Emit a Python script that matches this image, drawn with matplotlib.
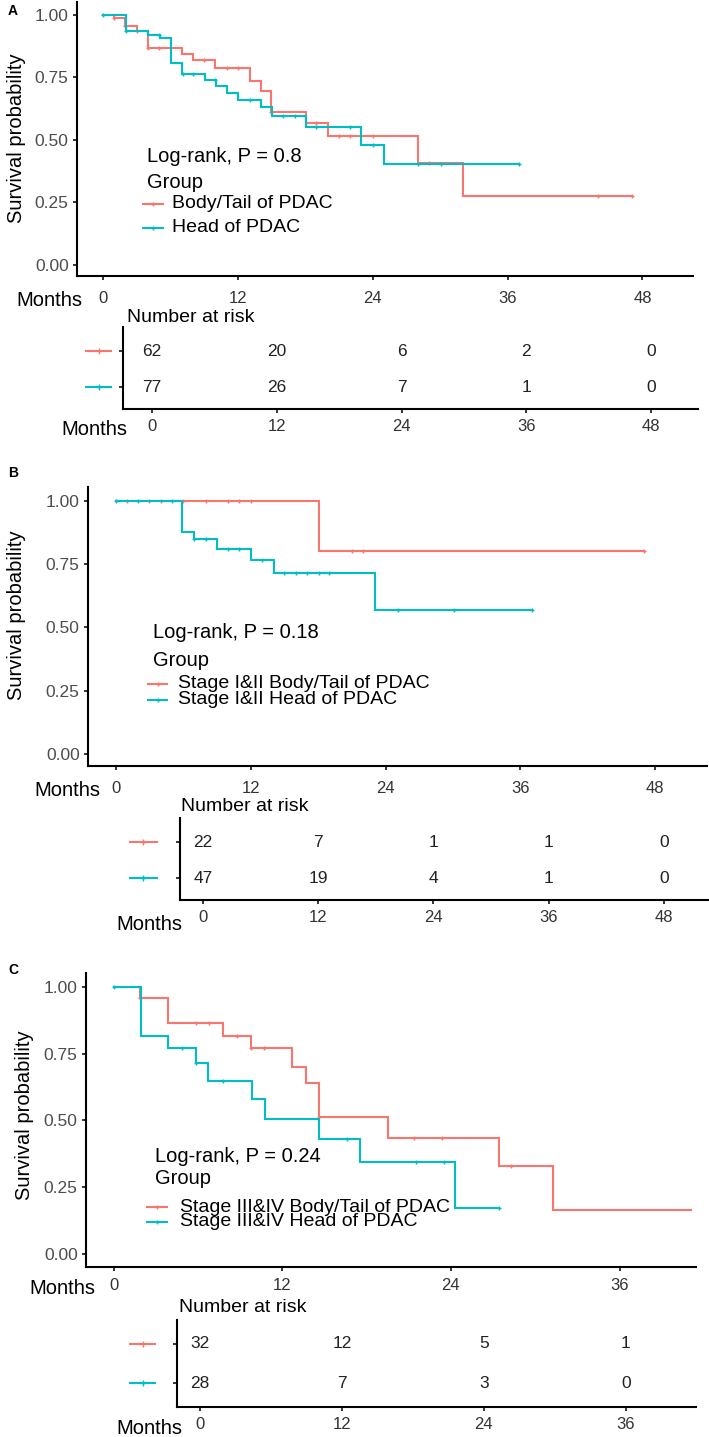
import numpy as np
import matplotlib
matplotlib.use("Agg")
import matplotlib.pyplot as plt
import matplotlib.transforms as mtransforms

plt.rcParams['font.family'] = ['Liberation Sans', 'DejaVu Sans']

# ---------------- data ----------------
RED = '#F8766D'
TEAL = '#00BFC4'

# Panel A
a_red_t = [0, 1.0, 2.0, 3.0, 4.0, 7.0, 8.0, 10.0, 13.1, 14.1, 15.0, 18.05, 20.0, 28.0, 32.05, 47.06]
a_red_s = [1.0, 0.987, 0.957, 0.934, 0.869, 0.843, 0.82, 0.786, 0.736, 0.696, 0.61, 0.567, 0.516, 0.407, 0.277, 0.277]
a_red_c = [1.0, 2.0, 3.0, 4.0, 5.0, 9.0, 11.0, 12.0, 15.0, 19.0, 21.0, 22.0, 24.07, 29.0, 44.05, 47.06]
a_teal_t = [0, 2.05, 4.0, 5.08, 6.06, 7.07, 9.08, 10.03, 11.0, 12.0, 14.07, 15.02, 18.05, 23.0, 25.0, 37.05]
a_teal_s = [1.0, 0.936, 0.92, 0.907, 0.807, 0.763, 0.74, 0.716, 0.689, 0.66, 0.633, 0.596, 0.553, 0.48, 0.403, 0.403]
a_teal_c = [0, 2.05, 5.0, 7.1, 8.0, 10.0, 13.1, 16.06, 17.1, 19.0, 22.0, 24.07, 28.0, 30.1, 37.05]
a_groups = ['Body/Tail of PDAC', 'Head of PDAC']
a_pval = 'Log-rank, P = 0.8'
a_times = [0, 12, 24, 36, 48]
a_risk_red = [62, 20, 6, 2, 0]
a_risk_teal = [77, 26, 7, 1, 0]

# Panel B
b_red_t = [0, 18.1, 47.0]
b_red_s = [1.0, 0.80, 0.80]
b_red_c = [1.0, 3.0, 4.0, 6.0, 8.0, 10.0, 11.0, 12.0, 21.0, 22.0, 47.0]
b_teal_t = [0, 5.93, 7.0, 9.05, 12.05, 14.04, 23.1, 37.05]
b_teal_s = [1.0, 0.875, 0.847, 0.809, 0.766, 0.713, 0.568, 0.568]
b_teal_c = [0, 2.0, 5.0, 7.0, 8.0, 10.0, 11.0, 13.0, 15.0, 16.0, 17.0, 18.1, 19.0, 25.1, 30.1, 37.05]
b_groups = ['Stage I&II Body/Tail of PDAC', 'Stage I&II Head of PDAC']
b_pval = 'Log-rank, P = 0.18'
b_times = [0, 12, 24, 36, 48]
b_risk_red = [22, 7, 1, 1, 0]
b_risk_teal = [47, 19, 4, 1, 0]

# Panel C
c_red_t = [0, 1.9, 3.9, 7.76, 9.77, 12.71, 13.68, 14.63, 19.53, 27.4, 31.25, 41.1]
c_red_s = [1.0, 0.959, 0.867, 0.817, 0.771, 0.702, 0.639, 0.512, 0.435, 0.329, 0.163, 0.163]
c_red_c = [1.9, 5.84, 6.79, 8.75, 9.77, 10.7, 14.63, 21.4, 23.4, 28.25]
c_teal_t = [0, 1.93, 3.9, 5.84, 6.74, 9.82, 10.77, 14.63, 17.56, 24.3, 27.4]
c_teal_s = [1.0, 0.818, 0.771, 0.714, 0.648, 0.58, 0.504, 0.432, 0.344, 0.171, 0.171]
c_teal_c = [0, 4.9, 5.84, 7.8, 16.6, 21.5, 23.5, 27.4]
c_groups = ['Stage III&IV Body/Tail of PDAC', 'Stage III&IV Head of PDAC']
c_pval = 'Log-rank, P = 0.24'
c_times = [0, 12, 24, 36]
c_risk_red = [32, 12, 5, 1]
c_risk_teal = [28, 7, 3, 0]

yticks_main = [0.0, 0.25, 0.5, 0.75, 1.0]

# ---------------- layout ----------------
W, H = 709, 1437
fig = plt.figure(figsize=(W / 100, H / 100), dpi=100)


def rect(l, t, r, b):
    return [l / W, 1 - b / H, (r - l) / W, (b - t) / H]


def fx(x):
    return x / W


def fy(y):
    return 1 - y / H


def surv_at(t_arr, s_arr, tc):
    idx = np.searchsorted(np.asarray(t_arr), np.asarray(tc), side='right') - 1
    return np.asarray(s_arr)[idx]


def style_axes(ax):
    for side in ['top', 'right']:
        ax.spines[side].set_visible(False)
    for side in ['left', 'bottom']:
        ax.spines[side].set_linewidth(1.5)
        ax.spines[side].set_color('black')
    ax.tick_params(axis='both', length=3, width=1.1, color='black')


def main_panel(r, xlim, ylim, curves, pval, groups, txt, leg_rows, ticks, label, label_xy,
               ylabel_xy, months_xy, xtick_pad):
    ax = fig.add_axes(rect(*r))
    style_axes(ax)
    for t, s, c, col in curves:
        ax.step(t, s, where='post', color=col, lw=1.5, solid_joinstyle='miter')
        ax.plot(c, surv_at(t, s, c), ls='none', marker='+', ms=3.5, mew=1.0, color=col)
    ax.set_xlim(*xlim)
    ax.set_ylim(*ylim)
    ax.set_yticks(yticks_main)
    ax.set_yticklabels(['%.2f' % v for v in yticks_main])
    ax.set_xticks(ticks)
    ax.set_xticklabels([str(v) for v in ticks])
    ax.tick_params(axis='y', labelsize=12.5, labelcolor='#4D4D4D', pad=3)
    ax.tick_params(axis='x', labelsize=12, labelcolor='#333333', pad=xtick_pad)
    # texts
    tx, ty_p, ty_g = txt
    fig.text(fx(tx), fy(ty_p), pval, fontsize=14.5, ha='left', va='center')
    fig.text(fx(tx), fy(ty_g), 'Group', fontsize=14.5, ha='left', va='center')
    gx0, gx1, tx2 = leg_rows[0]
    for (yy, name, col) in zip(leg_rows[1], groups, [RED, TEAL]):
        fig.add_artist(plt.Line2D([fx(gx0), fx(gx1)], [fy(yy), fy(yy)], color=col, lw=1.5,
                                  transform=fig.transFigure))
        fig.add_artist(plt.Line2D([fx((gx0 + gx1) / 2)], [fy(yy)], color=col, marker='+', ms=3.5,
                                  mew=1, transform=fig.transFigure))
        fig.text(fx(tx2), fy(yy), name, fontsize=14, ha='left', va='center')
    fig.text(fx(label_xy[0]), fy(label_xy[1]), label, fontsize=10, fontweight='bold',
             ha='left', va='center')
    fig.text(fx(ylabel_xy[0]), fy(ylabel_xy[1]), 'Survival probability', fontsize=14.5,
             rotation=90, ha='center', va='center')
    fig.text(fx(months_xy[0]), fy(months_xy[1]), 'Months', fontsize=14.5, ha='right',
             va='center')
    return ax


def risk_panel(r, xlim, ylim, times, rr, rt, glyph, nar_xy, months_xy):
    ax = fig.add_axes(rect(*r))
    style_axes(ax)
    ax.set_xlim(*xlim)
    ax.set_ylim(*ylim)
    ax.set_xticks(times)
    ax.set_xticklabels([str(v) for v in times])
    ax.set_yticks([0, 1])
    ax.set_yticklabels(['', ''])
    ax.tick_params(axis='x', labelsize=12, labelcolor='#333333', pad=4)
    for yv, vals in [(1, rr), (0, rt)]:
        for tv, n in zip(times, vals):
            ax.text(tv, yv, str(n), fontsize=12.5, ha='center', va='center', color='#222222')
    trans = mtransforms.blended_transform_factory(ax.transAxes, ax.transData)
    for yv, col in [(1, RED), (0, TEAL)]:
        ax.plot([glyph[0], glyph[1]], [yv, yv], color=col, lw=1.5, transform=trans, clip_on=False)
        ax.plot([(glyph[0] + glyph[1]) / 2], [yv], color=col, marker='+', ms=4, mew=1.0,
                transform=trans, clip_on=False)
    fig.text(fx(nar_xy[0]), fy(nar_xy[1]), 'Number at risk', fontsize=14, ha='left', va='center')
    fig.text(fx(months_xy[0]), fy(months_xy[1]), 'Months', fontsize=14.5, ha='right',
             va='center')
    return ax


# Panel A
main_panel((77, 2, 693, 276), (-2.3, 52.5), (-0.045, 1.052),
           [(a_red_t, a_red_s, a_red_c, RED), (a_teal_t, a_teal_s, a_teal_c, TEAL)],
           a_pval, a_groups, (147, 157, 183), ((143, 163, 172), (204, 228)), a_times,
           'A', (8, 11), (17, 138), (82, 301), 8)
risk_panel((123, 327, 698, 409), (-2.79, 52.5), (-0.61, 1.667), a_times, a_risk_red,
           a_risk_teal, (-0.064, -0.021), (127, 318), (127, 429))

# Panel B
main_panel((88, 487, 707, 766), (-2.47, 52.6), (-0.047, 1.054),
           [(b_red_t, b_red_s, b_red_c, RED), (b_teal_t, b_teal_s, b_teal_c, TEAL)],
           b_pval, b_groups, (153, 633, 660), ((148, 167, 178), (684, 700)), b_times,
           'B', (8, 473), (17, 615), (100, 790), 8)
risk_panel((180, 818, 709, 900), (-2.4, 52.7), (-0.61, 1.667), b_times, b_risk_red,
           b_risk_teal, (-0.0945, -0.0435), (181, 807), (182, 924))

# Panel C
main_panel((86, 973, 695.5, 1267), (-1.96, 41.4), (-0.05, 1.053),
           [(c_red_t, c_red_s, c_red_c, RED), (c_teal_t, c_teal_s, c_teal_c, TEAL)],
           c_pval, c_groups, (155, 1157, 1178), ((147, 167, 180), (1207, 1222)), c_times,
           'C', (8, 970), (24, 1115), (95, 1288), 5)
risk_panel((177, 1320, 695.5, 1407), (-1.94, 41.9), (-0.615, 1.615), c_times, c_risk_red,
           c_risk_teal, (-0.0906, -0.0424), (179, 1308), (182, 1428))

fig.savefig('out.png', dpi=100, facecolor='white')
